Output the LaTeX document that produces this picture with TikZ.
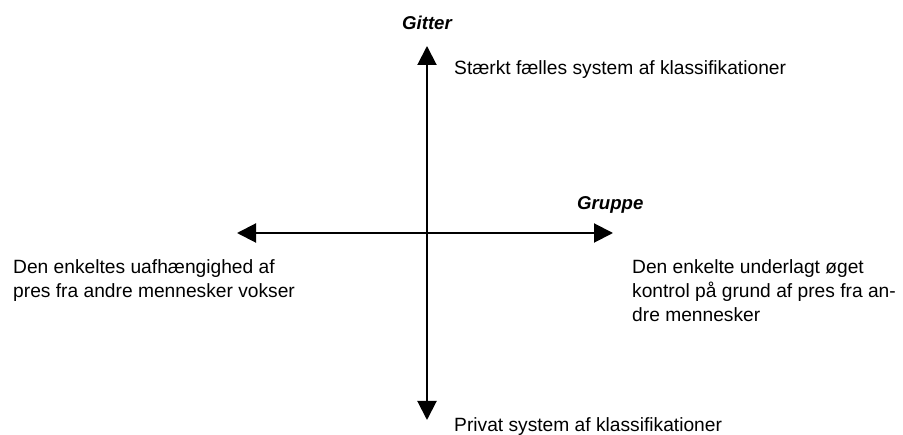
\documentclass[tikz,border=0pt]{standalone}
\usepackage{fontspec}
\setmainfont{Liberation Sans}
\usetikzlibrary{arrows.meta}
\begin{document}
\begin{tikzpicture}[x=1pt,y=-1pt,
  axis/.style={line width=2pt,-{Triangle[length=19pt,width=19pt]}},
  lbl/.style={anchor=base west,inner sep=0pt,font=\fontsize{19.2pt}{24pt}\selectfont,align=left},
  title/.style={anchor=base west,inner sep=0pt,font=\fontsize{18.6pt}{23pt}\selectfont\bfseries\itshape}]
\useasboundingbox (0,0) rectangle (903,435);
% axis ends and crossing point
\coordinate (o) at (427,233);
\coordinate (top) at (427,46);
\coordinate (bot) at (427,420);
\coordinate (lft) at (237,233);
\coordinate (rgt) at (613,233);
\draw[axis] (o) -- (top);
\draw[axis] (o) -- (bot);
\draw[axis] (o) -- (lft);
\draw[axis] (o) -- (rgt);
% axis titles
\node[title] (gitter) at (402,30) {Gitter};
\node[title] (gruppe) at (577,210) {Gruppe};
% pole descriptions (multi-line nodes are placed by the baseline of their last line)
\node[lbl] (strong) at (454,75) {Stærkt fælles system af klassifikationer};
\node[lbl] (private) at (454,432) {Privat system af klassifikationer};
\node[lbl] (indep) at (13,298) {Den enkeltes uafhængighed af\\pres fra andre mennesker vokser};
\node[lbl] (ctrl) at (632,322) {Den enkelte underlagt øget\\kontrol på grund af pres fra an-\\dre mennesker};
\end{tikzpicture}
\end{document}
